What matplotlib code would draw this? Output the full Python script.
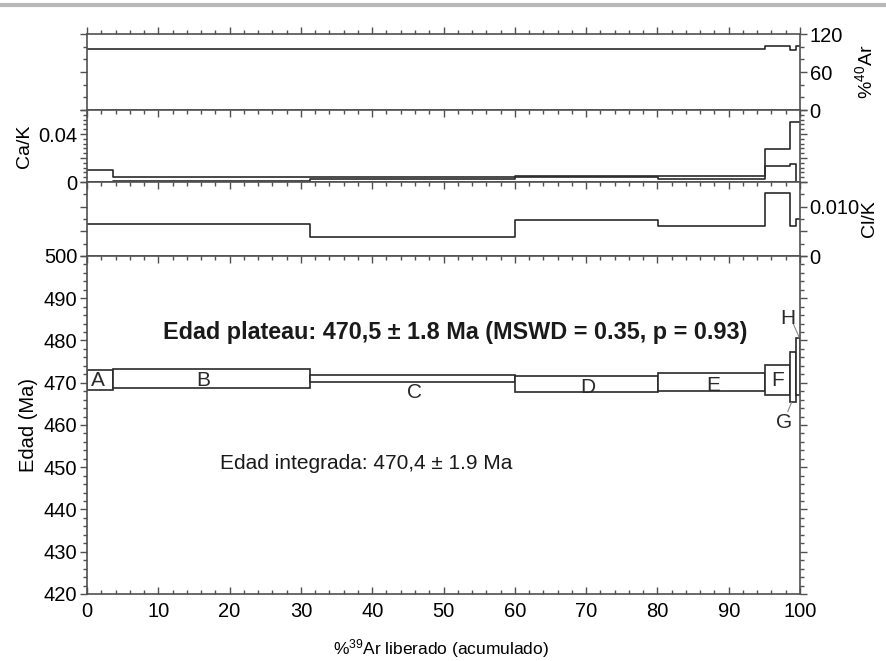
# Espectro de edades 40Ar/39Ar con paneles de %40Ar, Ca/K y Cl/K
import numpy as np
import matplotlib
matplotlib.use('Agg')
import matplotlib.pyplot as plt
from matplotlib.ticker import MultipleLocator, FuncFormatter
from matplotlib.lines import Line2D

plt.rcParams['font.family'] = ['Liberation Sans', 'DejaVu Sans']
plt.rcParams['mathtext.fontset'] = 'custom'
plt.rcParams['mathtext.rm'] = 'Liberation Sans'
plt.rcParams['mathtext.it'] = 'Liberation Sans:italic'
plt.rcParams['mathtext.bf'] = 'Liberation Sans:bold'

# --- datos ---
steps = ['A', 'B', 'C', 'D', 'E', 'F', 'G', 'H']
edges = [0, 3.7, 31.3, 60.0, 80.1, 95.1, 98.6, 99.5, 100]   # %39Ar acumulado
age_lo = [468.2, 468.8, 470.1, 467.8, 468.0, 467.2, 465.5, 467.0]
age_hi = [473.1, 473.3, 471.9, 471.5, 472.2, 474.1, 477.2, 480.5]
ar40 = [96.5, 96.5, 96.5, 96.5, 96.5, 100.8, 95.0, 100.3]
cak_hi = [0.010, 0.0045, 0.0040, 0.0053, 0.0050, 0.0272, 0.0503, 0.0503]
cak_lo = [0.0, 0.0012, 0.0027, 0.0039, 0.0023, 0.0137, 0.0150, 0.0]
clk = [0.0064, 0.0064, 0.0038, 0.00735, 0.0060, 0.0127, 0.0061, 0.0074]

plateau_txt = 'Edad plateau: 470,5 ± 1.8 Ma (MSWD = 0.35, p = 0.93)'
integ_txt = 'Edad integrada: 470,4 ± 1.9 Ma'

LC = '#2a2a2a'
SC = '#505050'
W, H = 887, 661


def frame(top, bottom):
    return [87 / W, 1 - bottom / H, (800 - 87) / W, (bottom - top) / H]


def step_xy(vals):
    x = np.array(edges)
    y = np.append(vals, vals[-1])
    return x, y


def only_labels(keep, fmt):
    def f(v, pos):
        for k in keep:
            if abs(v - k) < 1e-9:
                return fmt(k)
        return ''
    return FuncFormatter(f)


fig = plt.figure(figsize=(W / 100, H / 100), dpi=100)
ax_ar = fig.add_axes(frame(34, 110))
ax_ca = fig.add_axes(frame(110, 182), sharex=ax_ar)
ax_cl = fig.add_axes(frame(182, 256), sharex=ax_ar)
ax = fig.add_axes(frame(256, 594), sharex=ax_ar)

for a in [ax_ar, ax_ca, ax_cl, ax]:
    for s in a.spines.values():
        s.set_color(SC)
        s.set_linewidth(1.2)
    a.tick_params(which='major', length=5, width=1, color=SC, labelsize=14.5, pad=2)
    a.tick_params(which='minor', length=3, width=1, color=SC)

ax.set_xlim(0, 100)
ax.xaxis.set_major_locator(MultipleLocator(10))
ax.xaxis.set_minor_locator(MultipleLocator(2))

# %40Ar
x, y = step_xy(ar40)
ax_ar.step(x, y, where='post', color=LC, lw=1.2)
ax_ar.set_ylim(0, 120)
ax_ar.yaxis.set_major_locator(MultipleLocator(60))
ax_ar.yaxis.set_minor_locator(MultipleLocator(20))
ax_ar.tick_params(axis='x', which='both', direction='out', top=True, bottom=False,
                  labelbottom=False, labeltop=False)
ax_ar.tick_params(axis='y', which='both', direction='out', left=True, right=True,
                  labelleft=False, labelright=True)
ax_ar.yaxis.set_label_position('right')
ax_ar.set_ylabel(r'%$^{40}$Ar', fontsize=14, labelpad=8)

# Ca/K
x, y = step_xy(cak_hi)
ax_ca.step(x, y, where='post', color=LC, lw=1.2)
x, y = step_xy(cak_lo)
ax_ca.step(x, y, where='post', color=LC, lw=1.2)
ax_ca.set_ylim(0, 0.06)
ax_ca.yaxis.set_major_locator(MultipleLocator(0.02))
ax_ca.yaxis.set_minor_locator(MultipleLocator(0.004))
ax_ca.yaxis.set_major_formatter(only_labels([0, 0.04], lambda k: '0' if k == 0 else '0.04'))
ax_ca.tick_params(axis='x', which='both', direction='in', top=True, bottom=False,
                  labelbottom=False, labeltop=False)
ax_ca.tick_params(axis='y', which='both', direction='out', left=True, right=True,
                  labelleft=True, labelright=False)
ax_ca.set_ylabel('Ca/K', fontsize=14, labelpad=4)

# Cl/K
x, y = step_xy(clk)
ax_cl.step(x, y, where='post', color=LC, lw=1.2)
ax_cl.set_ylim(0, 0.015)
ax_cl.yaxis.set_major_locator(MultipleLocator(0.005))
ax_cl.yaxis.set_minor_locator(MultipleLocator(0.0025))
ax_cl.yaxis.set_major_formatter(only_labels([0, 0.010], lambda k: '0' if k == 0 else '0.010'))
ax_cl.tick_params(axis='x', which='both', direction='in', top=True, bottom=False,
                  labelbottom=False, labeltop=False)
ax_cl.tick_params(axis='y', which='both', direction='out', left=True, right=True,
                  labelleft=False, labelright=True)
ax_cl.yaxis.set_label_position('right')
ax_cl.set_ylabel('Cl/K', fontsize=14, labelpad=1)

# espectro de edades
left = np.array(edges[:-1])
width = np.diff(edges)
lo = np.array(age_lo)
hi = np.array(age_hi)
ax.bar(left, hi - lo, width=width, bottom=lo, align='edge',
       facecolor='white', edgecolor=LC, lw=1.2)
ax.set_ylim(420, 500)
ax.yaxis.set_major_locator(MultipleLocator(10))
ax.yaxis.set_minor_locator(MultipleLocator(2))
ax.tick_params(axis='x', which='both', direction='in', top=True, bottom=True)
ax.tick_params(axis='x', which='major', pad=6)
ax.tick_params(axis='y', which='both', direction='out', left=True, right=True,
               labelright=False)
ax.set_ylabel('Edad (Ma)', fontsize=14.5, labelpad=4)
ax.set_xlabel(r'%$^{39}$Ar liberado (acumulado)', fontsize=12.5, va='center')
ax.xaxis.set_label_coords(0.497, -0.16)

# etiquetas de los escalones
lab_pos = {'A': (1.5, 470.5), 'B': (16.3, 470.5), 'C': (46.0, 467.7),
           'D': (70.3, 468.9), 'E': (87.8, 469.3), 'F': (96.9, 470.6),
           'G': (97.8, 460.7), 'H': (98.3, 485.2)}
for s in steps:
    px, py = lab_pos[s]
    ax.text(px, py, s, fontsize=15, ha='center', va='center', color=LC)
ax.plot([98.3, 98.8], [463.2, 465.3], color='#888888', lw=0.8)
ax.plot([99.1, 99.9], [483.8, 480.7], color='#888888', lw=0.8)

ax.text(10.7, 481.8, plateau_txt, fontsize=16.8, fontweight='bold', ha='left',
        va='center', color='#1a1a1a')
ax.text(18.7, 450.9, integ_txt, fontsize=15, ha='left', va='center', color='#1a1a1a')

# linea gris superior
fig.add_artist(Line2D([0, 1], [1 - 5 / H, 1 - 5 / H], color='#b8b8b8', lw=3))

fig.savefig('out.png', dpi=100)
